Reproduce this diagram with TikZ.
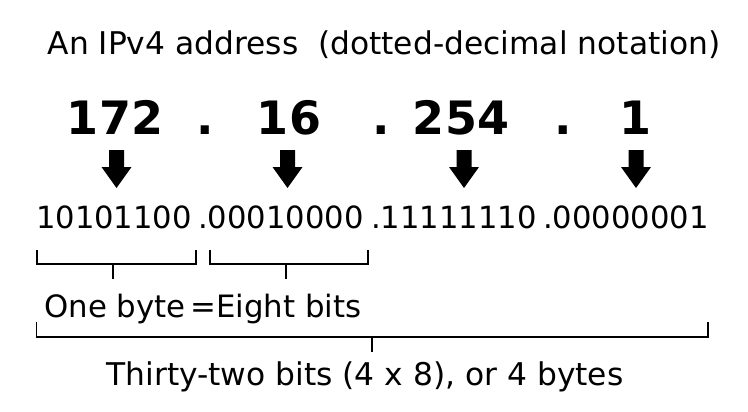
\documentclass[tikz,border=0pt]{standalone}
\usepackage{fontspec}
\setmainfont{DejaVu Sans}
\begin{document}
\begin{tikzpicture}[x=1pt,y=-1pt,
  txt/.style={inner sep=0pt,anchor=base,font=\fontsize{31.3}{36}\selectfont},
  bintxt/.style={inner sep=0pt,anchor=base,font=\fontsize{30.6}{36}\selectfont},
  mid/.style={inner sep=0pt,anchor=base,font=\fontsize{30.8}{36}\selectfont},
  big/.style={inner sep=0pt,anchor=base,font=\fontsize{46}{56}\selectfont\bfseries},
  brk/.style={line width=1.8pt,line cap=butt,line join=miter},
  barrow/.style={fill=black,draw=none}]
\useasboundingbox (0,0) rectangle (748,412);
% title
\node[txt] (title) at (384,55) {An IPv4 address\ \ (dotted-decimal notation)};
% decimal numbers
\node[big] (d1) at (115,135) {172};
\node[big] (p1) at (205,135) {.};
\node[big] (d2) at (289,135) {16};
\node[big] (p2) at (381,135) {.};
\node[big] (d3) at (461,135) {254};
\node[big] (p3) at (563,135) {.};
\node[big] (d4) at (635,135) {1};
% block arrows
\foreach \cx in {116.5,287.5,464,636}{
  \fill[barrow] (\cx-7.5,150) -- (\cx+7.5,150) -- (\cx+7.5,167) -- (\cx+15,167)
     -- (\cx,188) -- (\cx-15,167) -- (\cx-7.5,167) -- cycle;
}
% binary
\node[bintxt] (b1) at (114,228) {10101100};
\node[bintxt] (b2) at (281,228) {.00010000};
\node[bintxt] (b3) at (454,228) {.11111110};
\node[bintxt] (b4) at (626,228) {.00000001};
% byte brackets
\draw[brk] (37.3,250) -- (37.3,264) -- (196,264) -- (196,250);
\draw[brk] (113.3,264) -- (113.3,279);
\draw[brk] (210,250) -- (210,264) -- (368.3,264) -- (368.3,250);
\draw[brk] (286,264) -- (286,279);
% one byte label
\node[mid] (byte) at (203,317) {One byte\hspace{0.16em}=Eight bits};
% big bracket
\draw[brk] (36.5,322) -- (36.5,337.3) -- (708,337.3) -- (708,322);
\draw[brk] (372.3,337.3) -- (372.3,352);
\node[txt] (total) at (365,385) {Thirty-two bits (4 x 8), or 4 bytes};
\end{tikzpicture}
\end{document}
